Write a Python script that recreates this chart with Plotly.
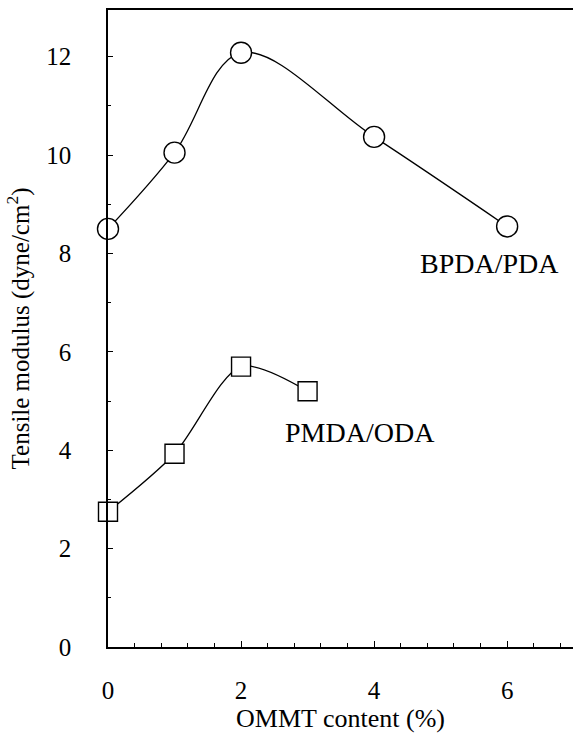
import plotly.graph_objects as go

# OMMT loading (%) and tensile modulus for the two polyimide systems
bpda_x = [0, 1, 2, 4, 6]
bpda_y = [8.5, 10.05, 12.08, 10.37, 8.55]
pmda_x = [0, 1, 2, 3]
pmda_y = [2.75, 3.93, 5.7, 5.2]
x_ticks = [0, 2, 4, 6]
y_ticks = [0, 2, 4, 6, 8, 10, 12]

FONT = "Liberation Serif"

fig = go.Figure()
fig.add_trace(go.Scatter(
    x=bpda_x, y=bpda_y, mode="lines+markers", name="BPDA/PDA",
    line=dict(color="black", width=1.3, shape="spline", smoothing=1.0),
    marker=dict(symbol="circle", size=21, color="white",
                line=dict(color="black", width=1.4)),
    cliponaxis=False, showlegend=False,
))
fig.add_trace(go.Scatter(
    x=pmda_x, y=pmda_y, mode="lines+markers", name="PMDA/ODA",
    line=dict(color="black", width=1.3, shape="spline", smoothing=0.8),
    marker=dict(symbol="square", size=19, color="white",
                line=dict(color="black", width=1.4)),
    cliponaxis=False, showlegend=False,
))

fig.add_annotation(x=5.74, y=7.8, text="BPDA/PDA", showarrow=False,
                   xanchor="center", yanchor="middle",
                   font=dict(family=FONT, size=28, color="black"))
fig.add_annotation(x=3.79, y=4.37, text="PMDA/ODA", showarrow=False,
                   xanchor="center", yanchor="middle",
                   font=dict(family=FONT, size=28, color="black"))

fig.update_xaxes(
    range=[0, 6.99], tickvals=x_ticks, ticktext=[str(v) for v in x_ticks],
    ticks="inside", ticklen=6, tickcolor="black",
    minor=dict(dtick=0.4, tick0=0, ticks="inside", ticklen=4, tickcolor="black"),
    showline=True, linecolor="black", linewidth=1.5, mirror=True,
    showgrid=False, zeroline=False, ticklabelstandoff=20,
    tickfont=dict(family=FONT, size=25, color="black"),
    title=dict(text="OMMT content (%)", standoff=2,
               font=dict(family=FONT, size=26, color="black")),
)
fig.update_yaxes(
    range=[0, 12.95], tickvals=y_ticks, ticktext=[str(v) for v in y_ticks],
    ticks="inside", ticklen=5, tickcolor="black",
    minor=dict(dtick=1, ticks="inside", ticklen=3, tickcolor="black"),
    showline=True, linecolor="black", linewidth=1.5, mirror=False,
    showgrid=False, zeroline=False, ticklabelstandoff=30,
    tickfont=dict(family=FONT, size=25, color="black"),
    title=dict(text="Tensile modulus (dyne/cm<sup>2</sup>)", standoff=10,
               font=dict(family=FONT, size=25, color="black")),
)

fig.update_layout(
    width=573, height=734,
    margin=dict(l=108, r=0, t=10, b=87),
    paper_bgcolor="white", plot_bgcolor="white",
    font=dict(family=FONT, color="black"),
)

fig.write_html("out.html")
